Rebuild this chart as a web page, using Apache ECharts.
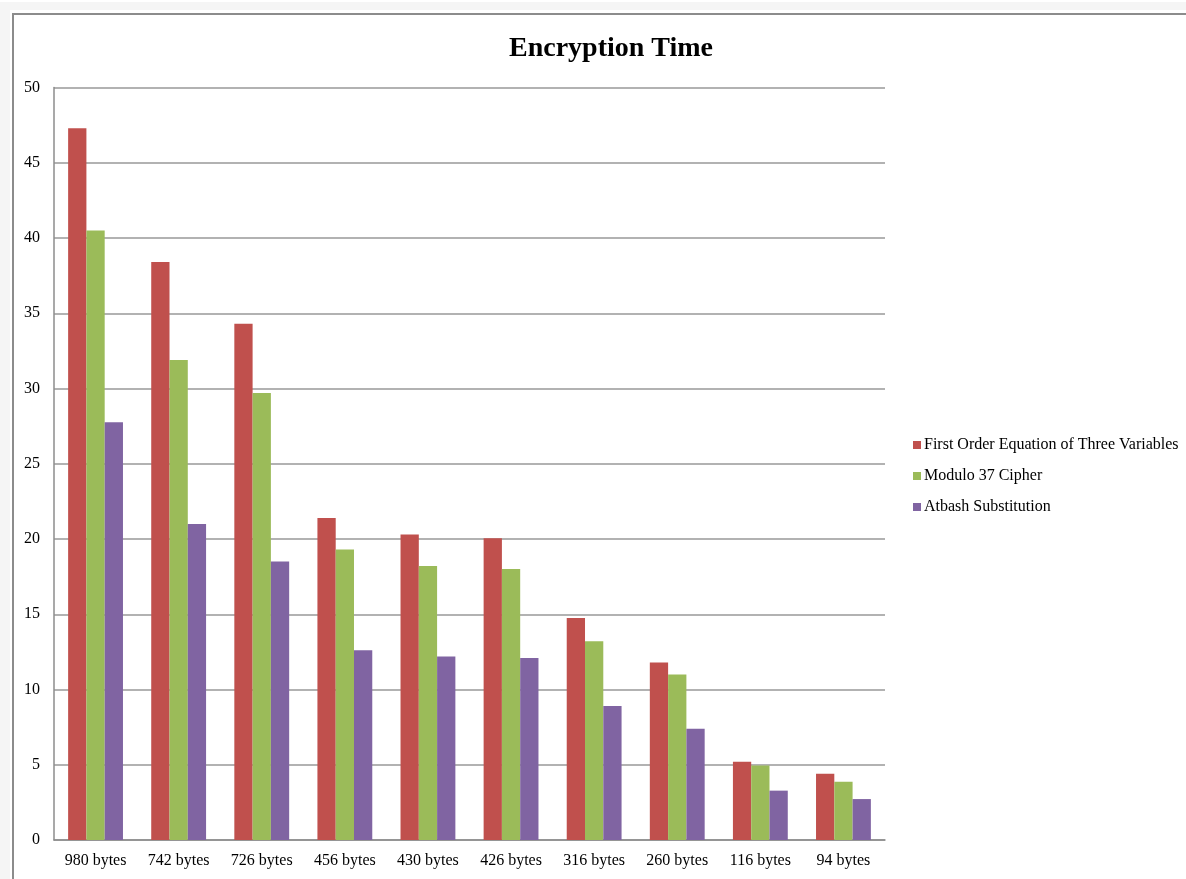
<!DOCTYPE html>
<html>
<head>
<meta charset="utf-8">
<script src="https://cdn.jsdelivr.net/npm/echarts@6/dist/echarts.min.js"></script>
<style>
html,body{margin:0;padding:0;background:#fff;}
#main{width:1186px;height:879px;}
</style>
</head>
<body>
<div id="main"></div>
<script>
const categories = ['980 bytes','742 bytes','726 bytes','456 bytes','430 bytes','426 bytes','316 bytes','260 bytes','116 bytes','94 bytes'];
const firstOrder = [47.3, 38.4, 34.3, 21.4, 20.3, 20.05, 14.75, 11.8, 5.2, 4.4];
const modulo37 = [40.5, 31.9, 29.7, 19.3, 18.2, 18.0, 13.2, 11.0, 4.95, 3.87];
const atbash = [27.75, 21.0, 18.5, 12.6, 12.2, 12.1, 8.9, 7.4, 3.28, 2.72];
const seriesNames = ['First Order Equation of Three Variables','Modulo 37 Cipher','Atbash Substitution'];

const serif = '"Liberation Serif", "DejaVu Serif", serif';
const chart = echarts.init(document.getElementById('main'), null, {renderer:'canvas'});
chart.setOption({
  animation: false,
  backgroundColor: '#ffffff',
  color: ['#C0504D','#9BBB59','#8064A2'],
  graphic: [
    {type:'rect', z:-10, shape:{x:0,y:2,width:1186,height:877}, style:{fill:'#f5f5f5'}},
    {type:'rect', z:-9, shape:{x:10,y:10,width:1176,height:869}, style:{fill:'#ffffff'}},
    {type:'rect', z:-8, shape:{x:13,y:14,width:1200,height:900}, style:{fill:'#ffffff', stroke:'#8c8c8c', lineWidth:2}}
  ],
  title: {
    text: 'Encryption Time',
    left: 606, textAlign: 'center', top: 30,
    textStyle: {fontFamily: serif, fontSize: 28, fontWeight: 'bold', color: '#000'}
  },
  legend: {
    orient: 'vertical',
    left: 908, top: 432,
    itemWidth: 8, itemHeight: 8, itemGap: 15,
    icon: 'rect',
    textStyle: {fontFamily: serif, fontSize: 16, color: '#000', padding:[0,0,0,-2]},
    data: seriesNames
  },
  grid: {left: 54, right: 301, top: 87.5, bottom: 39, containLabel: false},
  xAxis: {
    type: 'category',
    data: categories,
    axisLine: {lineStyle: {color: '#8c8c8c', width: 1.5}},
    axisTick: {show: false},
    axisLabel: {fontFamily: serif, fontSize: 16, color: '#000', margin: 13}
  },
  yAxis: {
    type: 'value', min: 0, max: 50, interval: 5,
    axisLine: {show: true, lineStyle: {color: '#8c8c8c', width: 1.5}},
    axisTick: {show: false},
    axisLabel: {fontFamily: serif, fontSize: 16, color: '#000', margin: 14},
    splitLine: {lineStyle: {color: '#999999', width: 1.5}}
  },
  series: [
    {name: seriesNames[0], type: 'bar', data: firstOrder, barGap: '0%', barCategoryGap: '34%'},
    {name: seriesNames[1], type: 'bar', data: modulo37, barGap: '0%', barCategoryGap: '34%'},
    {name: seriesNames[2], type: 'bar', data: atbash, barGap: '0%', barCategoryGap: '34%'}
  ]
});
</script>
</body>
</html>
